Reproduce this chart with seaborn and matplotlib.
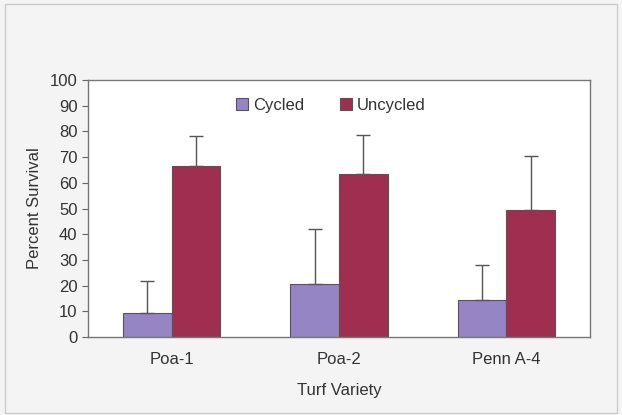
import matplotlib
matplotlib.use('Agg')
import matplotlib.pyplot as plt
import pandas as pd
import seaborn as sns

# Values
varieties = ['Poa-1', 'Poa-2', 'Penn A-4']
treatments = ['Cycled', 'Uncycled']
cycled = [9.5, 20.8, 14.3]
uncycled = [66.5, 63.4, 49.4]
cycled_err = [12.3, 21.4, 13.6]
uncycled_err = [11.7, 15.2, 20.9]

colors = {'Cycled': '#9585c4', 'Uncycled': '#a02e50'}

df = pd.DataFrame({
    'Turf Variety': varieties * 2,
    'Treatment': ['Cycled'] * 3 + ['Uncycled'] * 3,
    'Percent Survival': cycled + uncycled,
})
errs = {'Cycled': cycled_err, 'Uncycled': uncycled_err}

sns.set_style('white')
plt.rcParams['font.family'] = ['Liberation Sans', 'DejaVu Sans']

fig = plt.figure(figsize=(6.22, 4.15), dpi=100, facecolor='#f4f4f4')
ax = fig.add_axes([0.1415, 0.188, 0.807, 0.619])
ax.set_facecolor('white')

sns.barplot(data=df, x='Turf Variety', y='Percent Survival', hue='Treatment',
            hue_order=treatments, palette=colors, saturation=1, width=0.58,
            edgecolor='#555555', linewidth=0.8, ax=ax)

# one-sided error bars on top of each bar
for cont, name in zip(ax.containers, treatments):
    xs = [p.get_x() + p.get_width() / 2 for p in cont]
    ys = [p.get_height() for p in cont]
    ax.errorbar(xs, ys, yerr=[[0] * 3, errs[name]], fmt='none',
                ecolor='#555555', elinewidth=1.0, capsize=5, capthick=1.0)

ax.set_xlim(-0.5, 2.5)
ax.set_ylim(0, 100)
ax.set_yticks(range(0, 101, 10))
ax.tick_params(axis='y', direction='out', length=4, color='#666666',
               labelsize=12, labelcolor='#333333', left=True)
ax.tick_params(axis='x', length=0, labelsize=12, labelcolor='#333333', pad=11)
ax.set_xticks([0.5, 1.5], minor=True)
ax.tick_params(axis='x', which='minor', direction='in', length=4, color='#888888')
for s in ax.spines.values():
    s.set_color('#777777')
    s.set_linewidth(1.0)

ax.set_xlabel('Turf Variety', fontsize=12, color='#333333', labelpad=11)
ax.set_ylabel('Percent Survival', fontsize=12, color='#333333', labelpad=6)

ax.legend(loc='upper center', bbox_to_anchor=(0.484, 0.99), ncol=2, frameon=False,
          fontsize=12, handlelength=0.7, handleheight=0.7, handletextpad=0.3,
          columnspacing=2.2, labelcolor='#333333')

# light outer frame around the figure
fig.patches.append(plt.Rectangle((0.008, 0.005), 0.984, 0.985, transform=fig.transFigure,
                                 fill=False, edgecolor='#cccccc', linewidth=1.0))

fig.savefig('out.png', dpi=100, facecolor=fig.get_facecolor())
